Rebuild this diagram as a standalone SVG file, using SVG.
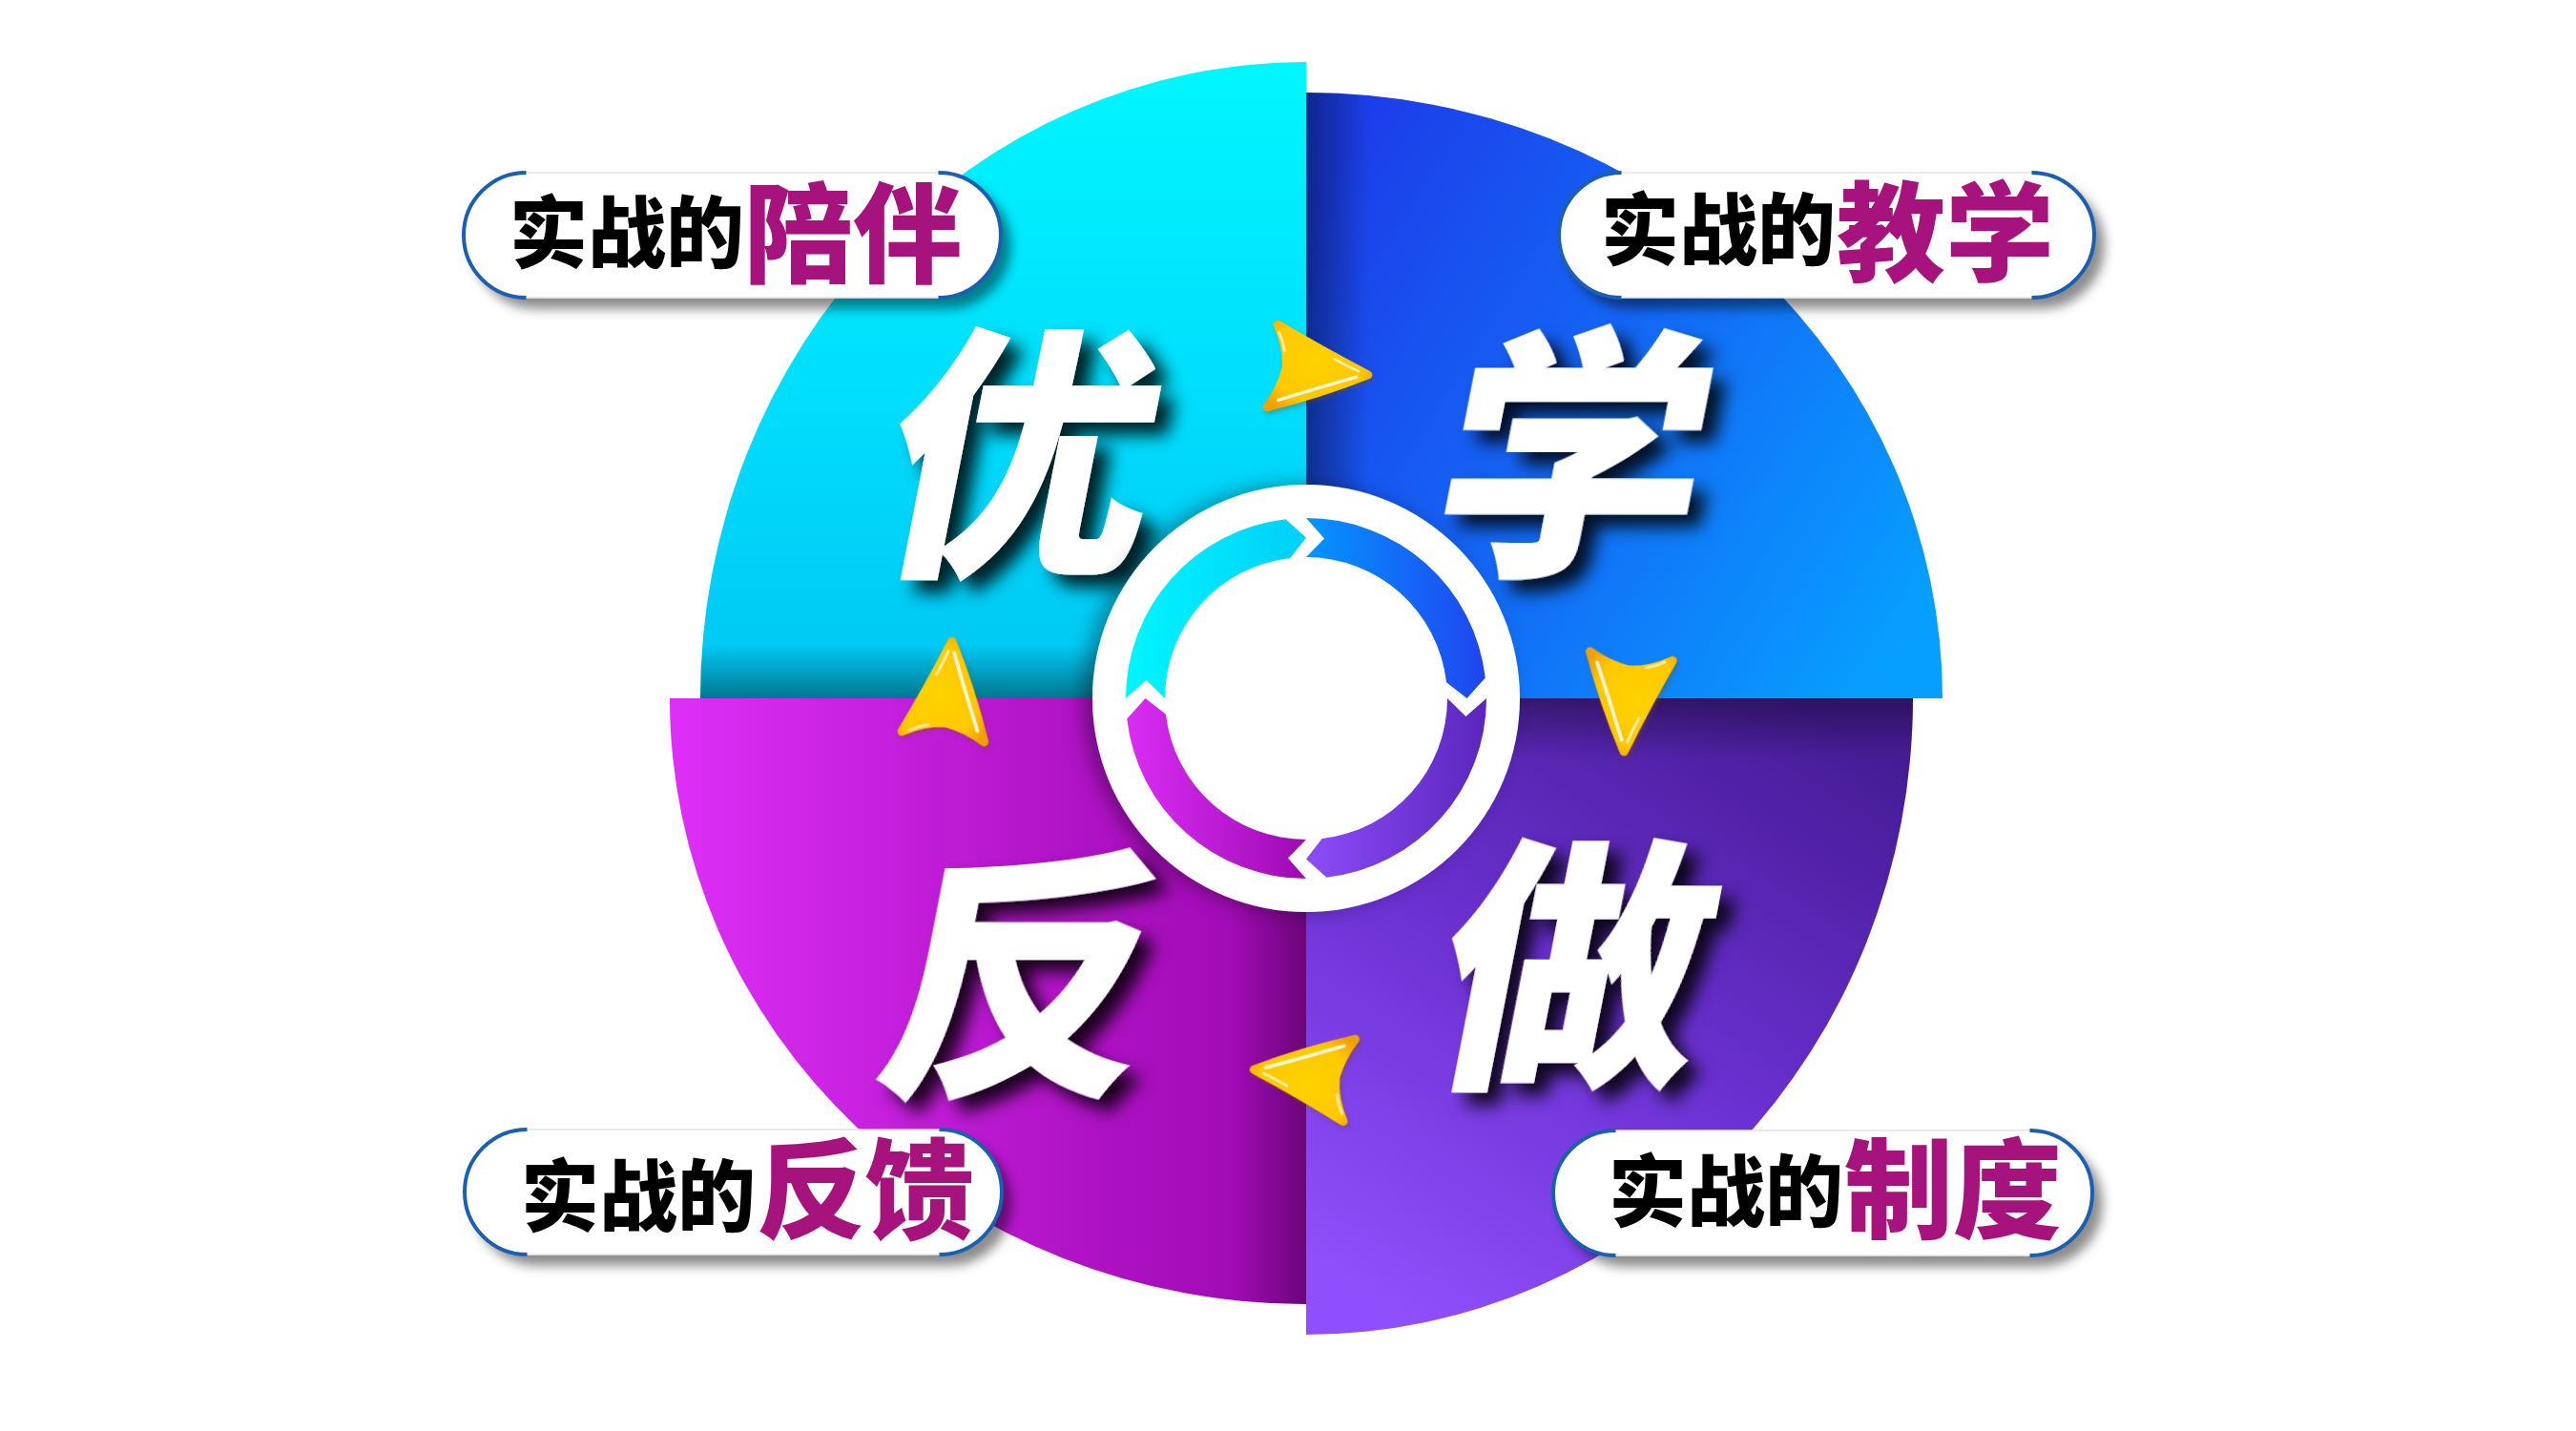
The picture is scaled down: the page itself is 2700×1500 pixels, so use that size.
<svg xmlns="http://www.w3.org/2000/svg" width="2700" height="1500" viewBox="0 0 2700 1500">
<defs>
<style>
.big{font-family:"Noto Sans CJK SC","Noto Sans CJK JP",sans-serif;font-weight:900;font-size:282px;fill:#fff;text-anchor:middle;dominant-baseline:central}
.lblK{font-family:"Noto Sans CJK SC","Noto Sans CJK JP",sans-serif;font-weight:900;font-size:82px;fill:#000;dominant-baseline:central}
.lblM{font-family:"Noto Sans CJK SC","Noto Sans CJK JP",sans-serif;font-weight:900;font-size:114px;fill:#A6137C;dominant-baseline:central}
.pill{fill:#fff;stroke:#e4e4e4;stroke-width:1.5}
.pillEnd{fill:none;stroke:#1B5FB3;stroke-width:4}
.arrow{fill:url(#gArrow);stroke:url(#gArrow);stroke-width:9;stroke-linejoin:round}
.hl{fill:none;stroke:#fff;stroke-linecap:round}
</style>
<linearGradient id="gTL" x1="0" y1="0" x2="0" y2="1"><stop offset="0" stop-color="#00F7FF"/><stop offset="0.6" stop-color="#00DAFC"/><stop offset="1" stop-color="#00C6F3"/></linearGradient>
<linearGradient id="gTR" x1="0" y1="0.2" x2="1" y2="0.8"><stop offset="0" stop-color="#1C3EEA"/><stop offset="0.45" stop-color="#1466F5"/><stop offset="1" stop-color="#079FFF"/></linearGradient>
<linearGradient id="gBL" x1="0" y1="0" x2="1" y2="0"><stop offset="0" stop-color="#DE2FF8"/><stop offset="0.6" stop-color="#B214C8"/><stop offset="1" stop-color="#9A08AE"/></linearGradient>
<linearGradient id="gBR" x1="0.8" y1="0" x2="0.2" y2="1"><stop offset="0" stop-color="#461C96"/><stop offset="0.5" stop-color="#6A30D0"/><stop offset="1" stop-color="#904FFC"/></linearGradient>
<linearGradient id="sTL" gradientUnits="userSpaceOnUse" x1="0" y1="732" x2="0" y2="676"><stop offset="0" stop-color="#000" stop-opacity="0.4"/><stop offset="1" stop-color="#000" stop-opacity="0"/></linearGradient>
<linearGradient id="sTR" gradientUnits="userSpaceOnUse" x1="1369" y1="0" x2="1435" y2="0"><stop offset="0" stop-color="#000" stop-opacity="0.4"/><stop offset="1" stop-color="#000" stop-opacity="0"/></linearGradient>
<linearGradient id="sBR" gradientUnits="userSpaceOnUse" x1="0" y1="732" x2="0" y2="795"><stop offset="0" stop-color="#000" stop-opacity="0.35"/><stop offset="1" stop-color="#000" stop-opacity="0"/></linearGradient>
<linearGradient id="sBL" gradientUnits="userSpaceOnUse" x1="1369" y1="0" x2="1290" y2="0"><stop offset="0" stop-color="#000" stop-opacity="0.3"/><stop offset="1" stop-color="#000" stop-opacity="0"/></linearGradient>
<linearGradient id="rTL" gradientUnits="userSpaceOnUse" x1="1180" y1="0" x2="1369" y2="0"><stop offset="0" stop-color="#00F6FF"/><stop offset="1" stop-color="#00CFF8"/></linearGradient>
<linearGradient id="rTR" gradientUnits="userSpaceOnUse" x1="1369" y1="0" x2="1558" y2="0"><stop offset="0" stop-color="#0595FF"/><stop offset="1" stop-color="#1F45EE"/></linearGradient>
<linearGradient id="rBR" gradientUnits="userSpaceOnUse" x1="1369" y1="0" x2="1558" y2="0"><stop offset="0" stop-color="#8D4CF8"/><stop offset="1" stop-color="#5A26BD"/></linearGradient>
<linearGradient id="rBL" gradientUnits="userSpaceOnUse" x1="1180" y1="0" x2="1369" y2="0"><stop offset="0" stop-color="#DA2DF5"/><stop offset="1" stop-color="#9E0AB3"/></linearGradient>
<radialGradient id="gArrow" cx="0.45" cy="0.4" r="0.7"><stop offset="0" stop-color="#FFD200"/><stop offset="0.7" stop-color="#FFC800"/><stop offset="1" stop-color="#F0A000"/></radialGradient>
<filter id="charShadow" x="-20%" y="-20%" width="150%" height="150%"><feDropShadow dx="14" dy="13" stdDeviation="9" flood-color="#000" flood-opacity="0.85"/></filter>
<filter id="pillShadow" x="-10%" y="-30%" width="125%" height="170%"><feDropShadow dx="10" dy="11" stdDeviation="6" flood-color="#000" flood-opacity="0.45"/></filter>
<filter id="ringShadow" x="-20%" y="-20%" width="140%" height="140%"><feDropShadow dx="-10" dy="0" stdDeviation="10" flood-color="#000" flood-opacity="0.35"/></filter>
<filter id="arrowShadow" x="-30%" y="-30%" width="160%" height="160%"><feDropShadow dx="2" dy="3" stdDeviation="2" flood-color="#7a4a00" flood-opacity="0.35"/></filter>
<g id="arrowShape">
<path class="arrow" d="M56,1 Q5,-21 -42,-45 Q-29,-20 -30,1 Q-34,22 -47,42 Q6,25 56,1 Z"/>
<path class="hl" stroke-width="3.5" opacity="0.85" d="M-36,34 Q5,18 44,4"/>
<path class="hl" stroke-width="2.5" opacity="0.7" d="M20,-13 Q35,-6 46,-2"/>
<path class="hl" stroke-width="3" opacity="0.6" d="M-40,-37 Q-35,-28 -33,-18"/>
</g>
</defs>
<rect x="0" y="0" width="2700" height="1500" fill="#fff"/>

<g id="quadrants">
<g id="q-tl"><path d="M1369,732 L734,732 A635,667 0 0 1 1369,65 Z" fill="url(#gTL)"/><path d="M1369,732 L734,732 A635,667 0 0 1 1369,65 Z" fill="url(#sTL)"/></g>
<g id="q-tr"><path d="M1369,732 L1369,97 A667,635 0 0 1 2036,732 Z" fill="url(#gTR)"/><path d="M1369,732 L1369,97 A667,635 0 0 1 2036,732 Z" fill="url(#sTR)"/></g>
<g id="q-br"><path d="M1369,732 L2005,732 A636,667 0 0 1 1369,1399 Z" fill="url(#gBR)"/><path d="M1369,732 L2005,732 A636,667 0 0 1 1369,1399 Z" fill="url(#sBR)"/></g>
<g id="q-bl"><path d="M1369,732 L1369,1367 A667,635 0 0 1 702,732 Z" fill="url(#gBL)"/><path d="M1369,732 L1369,1367 A667,635 0 0 1 702,732 Z" fill="url(#sBL)"/></g>
</g>

<g id="big-chars" filter="url(#charShadow)">
<text id="char-you" class="big" transform="translate(1077,459) skewX(-11)">优</text>
<text id="char-xue" class="big" transform="translate(1656,460) skewX(-11)">学</text>
<text id="char-fan" class="big" transform="translate(1075,1006) skewX(-11)">反</text>
<text id="char-zuo" class="big" transform="translate(1658,996) skewX(-11)">做</text>
</g>

<g id="center-cycle">
<circle cx="1369" cy="732" r="224" fill="#fff" filter="url(#ringShadow)"/>
<path id="seg-tl" fill="url(#rTL)" d="M1180,732 A189,189 0 0 1 1347.6,544.2 L1369,563.5 L1352.25,584.95 A148,148 0 0 0 1221,732 L1201.6,712.9 Z"/>
<path id="seg-tr" fill="url(#rTR)" d="M1369,543 A189,189 0 0 1 1556.8,710.6 L1537.5,732 L1516.05,715.25 A148,148 0 0 0 1369,584 L1388.07,564.6 Z"/>
<path id="seg-br" fill="url(#rBR)" d="M1558,732 A189,189 0 0 1 1390.4,919.8 L1369,900.5 L1385.75,879.05 A148,148 0 0 0 1517,732 L1536.4,751.07 Z"/>
<path id="seg-bl" fill="url(#rBL)" d="M1369,921 A189,189 0 0 1 1181.2,753.4 L1200.5,732 L1221.95,748.75 A148,148 0 0 0 1369,880 L1349.93,899.4 Z"/>
</g>

<g id="connectors" filter="url(#arrowShadow)">
<use href="#arrowShape" transform="translate(1378,388) rotate(4)"/>
<use href="#arrowShape" transform="translate(1706,732) rotate(93)"/>
<use href="#arrowShape" transform="translate(1370,1127) rotate(185)"/>
<use href="#arrowShape" transform="translate(993,728) rotate(-86)"/>
</g>

<g id="pill-tl">
<rect x="486" y="181" width="563" height="131" rx="65.5" class="pill" filter="url(#pillShadow)"/>
<path class="pillEnd" d="M551.5,181 A65.5,65.5 0 0 0 551.5,312"/>
<path class="pillEnd" d="M983.5,181 A65.5,65.5 0 0 1 983.5,312"/>
<text x="534" y="238" class="lblK">实战的</text>
<text x="780" y="237" class="lblM">陪伴</text>
</g>
<g id="pill-tr">
<rect x="1634" y="181" width="561" height="131" rx="65.5" class="pill" filter="url(#pillShadow)"/>
<path class="pillEnd" d="M1699.5,181 A65.5,65.5 0 0 0 1699.5,312"/>
<path class="pillEnd" d="M2129.5,181 A65.5,65.5 0 0 1 2129.5,312"/>
<text x="1678" y="235" class="lblK">实战的</text>
<text x="1925" y="236" class="lblM">教学</text>
</g>
<g id="pill-bl">
<rect x="487" y="1184" width="563" height="131" rx="65.5" class="pill" filter="url(#pillShadow)"/>
<path class="pillEnd" d="M552.5,1184 A65.5,65.5 0 0 0 552.5,1315"/>
<path class="pillEnd" d="M984.5,1184 A65.5,65.5 0 0 1 984.5,1315"/>
<text x="546" y="1248" class="lblK">实战的</text>
<text x="793" y="1239" class="lblM">反馈</text>
</g>
<g id="pill-br">
<rect x="1628" y="1185" width="565" height="131" rx="65.5" class="pill" filter="url(#pillShadow)"/>
<path class="pillEnd" d="M1693.5,1185 A65.5,65.5 0 0 0 1693.5,1316"/>
<path class="pillEnd" d="M2127.5,1185 A65.5,65.5 0 0 1 2127.5,1316"/>
<text x="1686" y="1243" class="lblK">实战的</text>
<text x="1933" y="1239" class="lblM">制度</text>
</g>
</svg>
